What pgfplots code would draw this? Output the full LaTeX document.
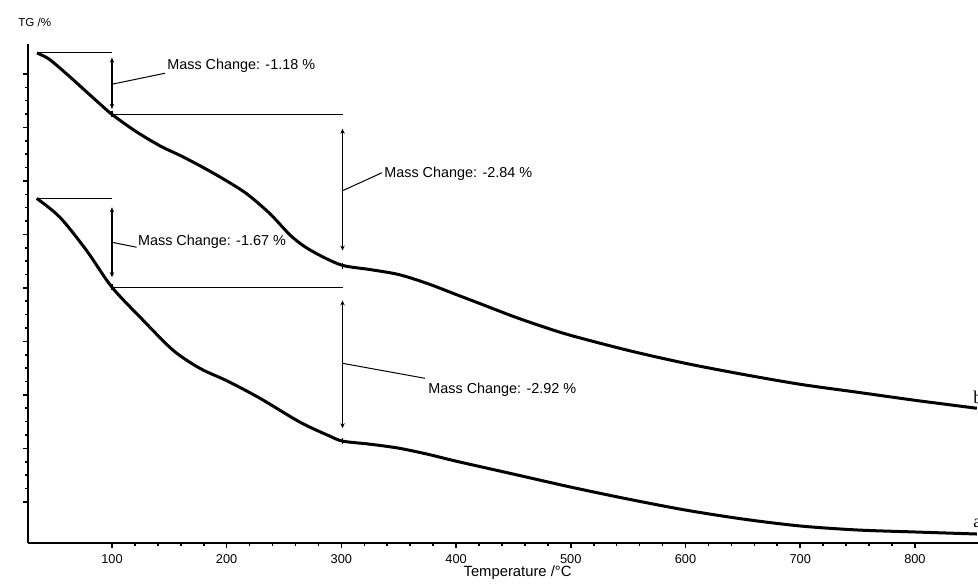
\documentclass[border=0pt]{standalone}
\usepackage{fontspec}
\setmainfont{Liberation Sans}
\newfontfamily\seriffont{Liberation Serif}
\usepackage{pgfplots}
\pgfplotsset{compat=1.18}
\usetikzlibrary{arrows.meta}

\begin{document}
\begin{tikzpicture}
\useasboundingbox (-14pt,-22pt) rectangle (475pt,271.5pt);
\begin{axis}[
  at={(0pt,0pt)}, anchor=south west,
  scale only axis, width=475pt, height=249.5pt,
  xmin=26.8, xmax=855, ymin=91.231, ymax=100.56,
  axis x line*=bottom, axis y line*=left,
  axis line style={line width=1pt},
  xtick={100,200,...,800}, minor x tick num=4,
  ytick={92,93,...,100}, yticklabels={}, minor y tick num=3,
  tick align=outside,
  major tick length=2.5pt, minor tick length=1.3pt,
  every tick/.style={black, line width=0.8pt},
  /pgf/number format/assume math mode=true,
  xticklabel style={font=\fontsize{6.4}{7}\selectfont, anchor=base, yshift=-8pt},
  xlabel={Temperature /°C},
  xlabel style={font=\fontsize{7.4}{8}\selectfont, at={(axis description cs:0.5153,0)}, anchor=base, yshift=-17pt},
]
% curve b
\addplot[black, line width=1.5pt, smooth] coordinates {
(34.6,100.392) (45,100.280) (60.5,100.000) (75,99.720) (89.5,99.440) (100,99.244)
(120,98.937) (141.8,98.657) (160,98.470) (176.7,98.284) (196.8,98.041) (217.4,97.761)
(237.7,97.388) (255.2,96.990) (268,96.772) (284.2,96.576) (301.6,96.418) (325,96.343)
(350,96.250) (375,96.082) (400,95.877) (425,95.672) (450,95.466) (475,95.280)
(500,95.112) (550,94.832) (600,94.590) (650,94.384) (700,94.198) (750,94.049)
(800,93.899) (854,93.750)
};
% curve a
\addplot[black, line width=1.5pt, smooth] coordinates {
(34.4,97.674) (54.7,97.319) (77.9,96.698) (100,96.013) (127.3,95.392) (153.4,94.832)
(176.7,94.496) (201.1,94.254) (229,93.937) (264,93.489) (290,93.228) (301.4,93.134)
(325,93.078) (350,93.004) (375,92.892) (400,92.761) (450,92.519) (500,92.276)
(550,92.052) (600,91.847) (650,91.679) (700,91.549) (750,91.474) (800,91.437)
(854,91.399)
};
% annotations b
\draw[line width=0.7pt] (axis cs:34.6,100.397) -- (axis cs:100,100.397);
\draw[line width=0.7pt] (axis cs:100,99.244) -- (axis cs:301,99.244);
\draw[line width=0.8pt, {Stealth[length=2.5pt,width=2.2pt]}-{Stealth[length=2.5pt,width=2.2pt]}] (axis cs:100,100.305) -- (axis cs:100,99.347);
\draw[line width=0.5pt] (axis cs:100,99.808) -- (axis cs:146.2,100.013);
\node[anchor=base west, inner sep=0pt, font=\fontsize{7.2}{8}\selectfont] at (axis cs:147.9,100.084) {Mass Change: -1.18 \%};
\draw[line width=0.8pt, {Stealth[length=2.5pt,width=2.2pt]}-{Stealth[length=2.5pt,width=2.2pt]}] (axis cs:301,98.974) -- (axis cs:301,96.698);
\draw[line width=0.5pt] (axis cs:301,97.817) -- (axis cs:335.4,98.153);
\node[anchor=base west, inner sep=0pt, font=\fontsize{7.2}{8}\selectfont] at (axis cs:337.1,98.06) {Mass Change: -2.84 \%};
% annotations a
\draw[line width=0.7pt] (axis cs:34.4,97.674) -- (axis cs:100,97.674);
\draw[line width=0.7pt] (axis cs:100,96.013) -- (axis cs:301,96.013);
\draw[line width=0.8pt, {Stealth[length=2.5pt,width=2.2pt]}-{Stealth[length=2.5pt,width=2.2pt]}] (axis cs:100,97.506) -- (axis cs:100,96.200);
\draw[line width=0.5pt] (axis cs:100,96.853) -- (axis cs:121.5,96.760);
\node[anchor=base west, inner sep=0pt, font=\fontsize{7.2}{8}\selectfont] at (axis cs:122.4,96.80) {Mass Change: -1.67 \%};
\draw[line width=0.8pt, {Stealth[length=2.5pt,width=2.2pt]}-{Stealth[length=2.5pt,width=2.2pt]}] (axis cs:301,95.765) -- (axis cs:301,93.377);
\draw[line width=0.5pt] (axis cs:301,94.590) -- (axis cs:372.9,94.310);
\node[anchor=base west, inner sep=0pt, font=\fontsize{7.2}{8}\selectfont] at (axis cs:375.5,94.03) {Mass Change: -2.92 \%};
% small crosses on curves
\draw[line width=0.6pt] (axis cs:100,99.19) -- (axis cs:100,99.30);
\draw[line width=0.6pt] (axis cs:301,96.36) -- (axis cs:301,96.47);
\draw[line width=0.6pt] (axis cs:298.4,96.418) -- (axis cs:303.6,96.418);
\draw[line width=0.6pt] (axis cs:100,95.96) -- (axis cs:100,96.07);
\draw[line width=0.6pt] (axis cs:301,93.08) -- (axis cs:301,93.19);
\draw[line width=0.6pt] (axis cs:298.4,93.134) -- (axis cs:303.6,93.134);
% curve labels
\node[anchor=base west, inner sep=0pt, font=\seriffont\fontsize{9}{10}\selectfont] at (axis cs:850.6,93.84) {b};
\node[anchor=base west, inner sep=0pt, font=\seriffont\fontsize{9}{10}\selectfont] at (axis cs:850.6,91.53) {a};
\end{axis}
\node[anchor=base west, inner sep=0pt, font=\fontsize{5.8}{6}\selectfont] at (-5pt,258pt) {TG /\%};
\end{tikzpicture}
\end{document}
